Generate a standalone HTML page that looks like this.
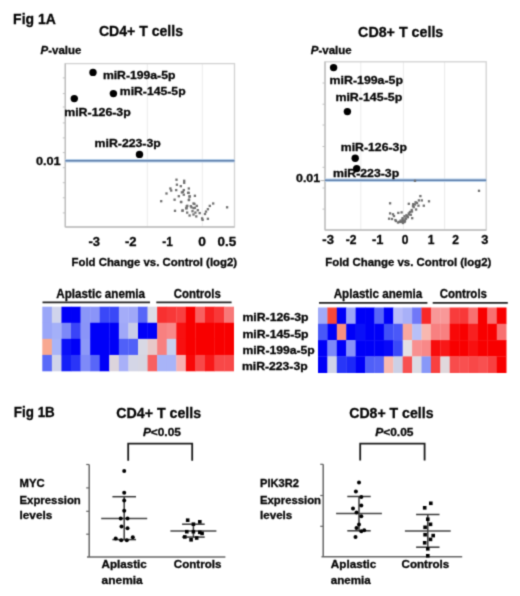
<!DOCTYPE html>
<html><head><meta charset="utf-8"><style>
html,body{margin:0;padding:0;background:#fff;}
body{width:520px;height:596px;overflow:hidden;}
svg{display:block;font-family:"Liberation Sans",sans-serif;}
text{fill:#050505;stroke:#050505;stroke-width:0.3px;}
</style></head><body>
<svg width="520" height="596" viewBox="0 0 520 596">
<defs><filter id="bl" x="0" y="0" width="520" height="596" filterUnits="userSpaceOnUse" color-interpolation-filters="sRGB"><feConvolveMatrix order="3" kernelMatrix="0.0289 0.1122 0.0289 0.1122 0.4356 0.1122 0.0289 0.1122 0.0289" edgeMode="duplicate" preserveAlpha="true"/></filter></defs>
<g filter="url(#bl)">
<rect width="520" height="596" fill="#fff"/>
<text x="13.1" y="24.2" font-size="15.3" font-weight="bold" textLength="42.7" lengthAdjust="spacingAndGlyphs">Fig 1A</text>
<text x="98.9" y="36.2" font-size="15.3" font-weight="bold" textLength="84.1" lengthAdjust="spacingAndGlyphs">CD4+ T cells</text>
<text x="358.1" y="36.7" font-size="15.3" font-weight="bold" textLength="85.2" lengthAdjust="spacingAndGlyphs">CD8+ T cells</text>
<text x="40.6" y="54.4" font-size="11.8" font-weight="bold" textLength="40.7" lengthAdjust="spacingAndGlyphs"><tspan font-style="italic">P</tspan>-value</text>
<text x="310.8" y="54.4" font-size="11.8" font-weight="bold" textLength="40.9" lengthAdjust="spacingAndGlyphs"><tspan font-style="italic">P</tspan>-value</text>
<line x1="147.30" y1="63.60" x2="147.30" y2="227.00" stroke="#ebebeb" stroke-width="1"/>
<line x1="202.30" y1="63.60" x2="202.30" y2="227.00" stroke="#ebebeb" stroke-width="1"/>
<rect x="65.30" y="63.60" width="169.20" height="163.40" fill="none" stroke="#d2d2d2" stroke-width="1.3"/>
<line x1="65.30" y1="63.60" x2="65.30" y2="227.00" stroke="#bcbcbc" stroke-width="1.3"/>
<line x1="65.30" y1="227.00" x2="234.50" y2="227.00" stroke="#bcbcbc" stroke-width="1.5"/>
<line x1="62.80" y1="77.90" x2="65.30" y2="77.90" stroke="#c0c0c0" stroke-width="1"/>
<line x1="62.80" y1="93.60" x2="65.30" y2="93.60" stroke="#c0c0c0" stroke-width="1"/>
<line x1="62.80" y1="107.00" x2="65.30" y2="107.00" stroke="#c0c0c0" stroke-width="1"/>
<line x1="62.80" y1="122.90" x2="65.30" y2="122.90" stroke="#c0c0c0" stroke-width="1"/>
<line x1="62.80" y1="137.90" x2="65.30" y2="137.90" stroke="#c0c0c0" stroke-width="1"/>
<line x1="62.80" y1="152.60" x2="65.30" y2="152.60" stroke="#c0c0c0" stroke-width="1"/>
<line x1="62.80" y1="167.70" x2="65.30" y2="167.70" stroke="#c0c0c0" stroke-width="1"/>
<line x1="62.80" y1="182.70" x2="65.30" y2="182.70" stroke="#c0c0c0" stroke-width="1"/>
<line x1="62.80" y1="197.80" x2="65.30" y2="197.80" stroke="#c0c0c0" stroke-width="1"/>
<line x1="62.80" y1="212.90" x2="65.30" y2="212.90" stroke="#c0c0c0" stroke-width="1"/>
<line x1="65.30" y1="160.70" x2="234.50" y2="160.70" stroke="#bcd4ee" stroke-width="3.4"/>
<line x1="65.30" y1="160.70" x2="234.50" y2="160.70" stroke="#5e7eaa" stroke-width="1.5"/>
<line x1="360.80" y1="61.80" x2="360.80" y2="230.10" stroke="#ebebeb" stroke-width="1"/>
<line x1="403.40" y1="61.80" x2="403.40" y2="230.10" stroke="#ebebeb" stroke-width="1"/>
<line x1="444.60" y1="61.80" x2="444.60" y2="230.10" stroke="#ebebeb" stroke-width="1"/>
<rect x="325.00" y="61.80" width="161.20" height="168.30" fill="none" stroke="#d2d2d2" stroke-width="1.3"/>
<line x1="325.00" y1="61.80" x2="325.00" y2="230.10" stroke="#bcbcbc" stroke-width="1.3"/>
<line x1="325.00" y1="230.10" x2="486.20" y2="230.10" stroke="#bcbcbc" stroke-width="1.5"/>
<line x1="322.50" y1="83.00" x2="325.00" y2="83.00" stroke="#c0c0c0" stroke-width="1"/>
<line x1="322.50" y1="104.20" x2="325.00" y2="104.20" stroke="#c0c0c0" stroke-width="1"/>
<line x1="322.50" y1="125.00" x2="325.00" y2="125.00" stroke="#c0c0c0" stroke-width="1"/>
<line x1="322.50" y1="146.50" x2="325.00" y2="146.50" stroke="#c0c0c0" stroke-width="1"/>
<line x1="322.50" y1="167.30" x2="325.00" y2="167.30" stroke="#c0c0c0" stroke-width="1"/>
<line x1="322.50" y1="188.00" x2="325.00" y2="188.00" stroke="#c0c0c0" stroke-width="1"/>
<line x1="322.50" y1="209.10" x2="325.00" y2="209.10" stroke="#c0c0c0" stroke-width="1"/>
<line x1="325.00" y1="180.20" x2="486.20" y2="180.20" stroke="#bcd4ee" stroke-width="3.4"/>
<line x1="325.00" y1="180.20" x2="486.20" y2="180.20" stroke="#5e7eaa" stroke-width="1.5"/>
<line x1="320.50" y1="180.60" x2="325.00" y2="180.60" stroke="#b0b0b0" stroke-width="1"/>
<rect x="175.35" y="178.55" width="2.30" height="2.30" fill="#6e6e6e"/>
<rect x="183.05" y="179.65" width="2.30" height="2.30" fill="#6e6e6e"/>
<rect x="183.05" y="181.65" width="2.30" height="2.30" fill="#6e6e6e"/>
<rect x="175.75" y="183.55" width="2.30" height="2.30" fill="#6e6e6e"/>
<rect x="179.65" y="185.05" width="2.30" height="2.30" fill="#6e6e6e"/>
<rect x="169.25" y="187.35" width="2.30" height="2.30" fill="#6e6e6e"/>
<rect x="170.05" y="189.35" width="2.30" height="2.30" fill="#6e6e6e"/>
<rect x="175.05" y="188.95" width="2.30" height="2.30" fill="#6e6e6e"/>
<rect x="187.65" y="187.35" width="2.30" height="2.30" fill="#6e6e6e"/>
<rect x="182.65" y="188.95" width="2.30" height="2.30" fill="#6e6e6e"/>
<rect x="180.75" y="191.25" width="2.30" height="2.30" fill="#6e6e6e"/>
<rect x="186.95" y="191.65" width="2.30" height="2.30" fill="#6e6e6e"/>
<rect x="165.35" y="192.35" width="2.30" height="2.30" fill="#6e6e6e"/>
<rect x="188.45" y="195.45" width="2.30" height="2.30" fill="#6e6e6e"/>
<rect x="177.65" y="195.05" width="2.30" height="2.30" fill="#6e6e6e"/>
<rect x="182.65" y="193.55" width="2.30" height="2.30" fill="#6e6e6e"/>
<rect x="160.05" y="200.05" width="2.30" height="2.30" fill="#6e6e6e"/>
<rect x="173.45" y="198.55" width="2.30" height="2.30" fill="#6e6e6e"/>
<rect x="187.65" y="198.95" width="2.30" height="2.30" fill="#6e6e6e"/>
<rect x="180.05" y="200.85" width="2.30" height="2.30" fill="#6e6e6e"/>
<rect x="192.35" y="202.35" width="2.30" height="2.30" fill="#6e6e6e"/>
<rect x="186.15" y="204.65" width="2.30" height="2.30" fill="#6e6e6e"/>
<rect x="189.65" y="205.05" width="2.30" height="2.30" fill="#6e6e6e"/>
<rect x="185.35" y="207.05" width="2.30" height="2.30" fill="#6e6e6e"/>
<rect x="173.85" y="209.65" width="2.30" height="2.30" fill="#6e6e6e"/>
<rect x="181.55" y="209.35" width="2.30" height="2.30" fill="#6e6e6e"/>
<rect x="192.35" y="207.05" width="2.30" height="2.30" fill="#6e6e6e"/>
<rect x="181.75" y="190.75" width="2.30" height="2.30" fill="#6e6e6e"/>
<rect x="187.55" y="191.75" width="2.30" height="2.30" fill="#6e6e6e"/>
<rect x="188.45" y="195.15" width="2.30" height="2.30" fill="#6e6e6e"/>
<rect x="193.75" y="194.65" width="2.30" height="2.30" fill="#6e6e6e"/>
<rect x="187.95" y="198.45" width="2.30" height="2.30" fill="#6e6e6e"/>
<rect x="179.85" y="200.85" width="2.30" height="2.30" fill="#6e6e6e"/>
<rect x="193.25" y="202.75" width="2.30" height="2.30" fill="#6e6e6e"/>
<rect x="195.65" y="204.75" width="2.30" height="2.30" fill="#6e6e6e"/>
<rect x="185.55" y="205.15" width="2.30" height="2.30" fill="#6e6e6e"/>
<rect x="185.15" y="207.15" width="2.30" height="2.30" fill="#6e6e6e"/>
<rect x="190.35" y="206.15" width="2.30" height="2.30" fill="#6e6e6e"/>
<rect x="193.75" y="206.65" width="2.30" height="2.30" fill="#6e6e6e"/>
<rect x="196.65" y="209.05" width="2.30" height="2.30" fill="#6e6e6e"/>
<rect x="181.25" y="209.55" width="2.30" height="2.30" fill="#6e6e6e"/>
<rect x="186.05" y="211.45" width="2.30" height="2.30" fill="#6e6e6e"/>
<rect x="191.35" y="210.05" width="2.30" height="2.30" fill="#6e6e6e"/>
<rect x="194.25" y="211.45" width="2.30" height="2.30" fill="#6e6e6e"/>
<rect x="198.55" y="211.95" width="2.30" height="2.30" fill="#6e6e6e"/>
<rect x="188.45" y="214.35" width="2.30" height="2.30" fill="#6e6e6e"/>
<rect x="192.35" y="213.35" width="2.30" height="2.30" fill="#6e6e6e"/>
<rect x="195.15" y="215.25" width="2.30" height="2.30" fill="#6e6e6e"/>
<rect x="200.95" y="217.25" width="2.30" height="2.30" fill="#6e6e6e"/>
<rect x="201.45" y="218.65" width="2.30" height="2.30" fill="#6e6e6e"/>
<rect x="206.75" y="217.65" width="2.30" height="2.30" fill="#6e6e6e"/>
<rect x="204.85" y="210.45" width="2.30" height="2.30" fill="#6e6e6e"/>
<rect x="206.75" y="208.05" width="2.30" height="2.30" fill="#6e6e6e"/>
<rect x="208.65" y="204.75" width="2.30" height="2.30" fill="#6e6e6e"/>
<rect x="212.05" y="202.35" width="2.30" height="2.30" fill="#6e6e6e"/>
<rect x="203.85" y="212.85" width="2.30" height="2.30" fill="#6e6e6e"/>
<rect x="225.95" y="206.15" width="2.30" height="2.30" fill="#6e6e6e"/>
<rect x="419.25" y="194.95" width="2.30" height="2.30" fill="#6e6e6e"/>
<rect x="417.75" y="199.25" width="2.30" height="2.30" fill="#6e6e6e"/>
<rect x="420.65" y="199.25" width="2.30" height="2.30" fill="#6e6e6e"/>
<rect x="414.45" y="201.15" width="2.30" height="2.30" fill="#6e6e6e"/>
<rect x="412.05" y="203.05" width="2.30" height="2.30" fill="#6e6e6e"/>
<rect x="407.65" y="202.65" width="2.30" height="2.30" fill="#6e6e6e"/>
<rect x="422.65" y="204.55" width="2.30" height="2.30" fill="#6e6e6e"/>
<rect x="417.35" y="204.55" width="2.30" height="2.30" fill="#6e6e6e"/>
<rect x="388.95" y="202.15" width="2.30" height="2.30" fill="#6e6e6e"/>
<rect x="412.55" y="205.95" width="2.30" height="2.30" fill="#6e6e6e"/>
<rect x="414.95" y="208.35" width="2.30" height="2.30" fill="#6e6e6e"/>
<rect x="410.55" y="208.85" width="2.30" height="2.30" fill="#6e6e6e"/>
<rect x="397.15" y="211.75" width="2.30" height="2.30" fill="#6e6e6e"/>
<rect x="400.45" y="211.25" width="2.30" height="2.30" fill="#6e6e6e"/>
<rect x="388.95" y="212.25" width="2.30" height="2.30" fill="#6e6e6e"/>
<rect x="391.85" y="213.15" width="2.30" height="2.30" fill="#6e6e6e"/>
<rect x="407.65" y="212.25" width="2.30" height="2.30" fill="#6e6e6e"/>
<rect x="409.65" y="213.65" width="2.30" height="2.30" fill="#6e6e6e"/>
<rect x="405.25" y="214.15" width="2.30" height="2.30" fill="#6e6e6e"/>
<rect x="403.35" y="215.15" width="2.30" height="2.30" fill="#6e6e6e"/>
<rect x="406.75" y="216.05" width="2.30" height="2.30" fill="#6e6e6e"/>
<rect x="411.05" y="217.05" width="2.30" height="2.30" fill="#6e6e6e"/>
<rect x="387.95" y="217.55" width="2.30" height="2.30" fill="#6e6e6e"/>
<rect x="401.45" y="217.05" width="2.30" height="2.30" fill="#6e6e6e"/>
<rect x="404.85" y="217.55" width="2.30" height="2.30" fill="#6e6e6e"/>
<rect x="394.25" y="218.95" width="2.30" height="2.30" fill="#6e6e6e"/>
<rect x="399.55" y="219.45" width="2.30" height="2.30" fill="#6e6e6e"/>
<rect x="401.95" y="219.95" width="2.30" height="2.30" fill="#6e6e6e"/>
<rect x="400.45" y="220.85" width="2.30" height="2.30" fill="#6e6e6e"/>
<rect x="398.05" y="220.85" width="2.30" height="2.30" fill="#6e6e6e"/>
<rect x="403.35" y="220.85" width="2.30" height="2.30" fill="#6e6e6e"/>
<rect x="427.85" y="200.15" width="2.30" height="2.30" fill="#6e6e6e"/>
<rect x="477.85" y="189.65" width="2.30" height="2.30" fill="#6e6e6e"/>
<rect x="413.85" y="179.65" width="2.30" height="2.30" fill="#6e6e6e"/>
<rect x="401.35" y="218.35" width="2.30" height="2.30" fill="#6e6e6e"/>
<rect x="402.85" y="219.35" width="2.30" height="2.30" fill="#6e6e6e"/>
<rect x="404.35" y="217.35" width="2.30" height="2.30" fill="#6e6e6e"/>
<rect x="405.85" y="214.85" width="2.30" height="2.30" fill="#6e6e6e"/>
<rect x="407.85" y="213.35" width="2.30" height="2.30" fill="#6e6e6e"/>
<rect x="398.85" y="220.65" width="2.30" height="2.30" fill="#6e6e6e"/>
<rect x="396.85" y="221.35" width="2.30" height="2.30" fill="#6e6e6e"/>
<rect x="401.85" y="221.85" width="2.30" height="2.30" fill="#6e6e6e"/>
<rect x="403.85" y="219.85" width="2.30" height="2.30" fill="#6e6e6e"/>
<rect x="408.85" y="210.85" width="2.30" height="2.30" fill="#6e6e6e"/>
<rect x="410.85" y="210.35" width="2.30" height="2.30" fill="#6e6e6e"/>
<rect x="394.85" y="219.85" width="2.30" height="2.30" fill="#6e6e6e"/>
<rect x="392.85" y="214.85" width="2.30" height="2.30" fill="#6e6e6e"/>
<rect x="390.85" y="217.85" width="2.30" height="2.30" fill="#6e6e6e"/>
<rect x="411.85" y="204.85" width="2.30" height="2.30" fill="#6e6e6e"/>
<rect x="413.85" y="203.35" width="2.30" height="2.30" fill="#6e6e6e"/>
<rect x="415.85" y="201.85" width="2.30" height="2.30" fill="#6e6e6e"/>
<circle cx="93.00" cy="72.40" r="3.7" fill="#000"/>
<circle cx="113.40" cy="93.60" r="3.7" fill="#000"/>
<circle cx="74.30" cy="98.60" r="3.7" fill="#000"/>
<circle cx="139.50" cy="154.40" r="3.7" fill="#000"/>
<circle cx="333.60" cy="67.60" r="3.7" fill="#000"/>
<circle cx="347.40" cy="111.60" r="3.7" fill="#000"/>
<circle cx="355.20" cy="158.30" r="3.7" fill="#000"/>
<circle cx="356.70" cy="168.60" r="3.7" fill="#000"/>
<text x="102.9" y="78.6" font-size="11.3" font-weight="bold" textLength="72.5" lengthAdjust="spacingAndGlyphs">miR-199a-5p</text>
<text x="119.8" y="95.1" font-size="11.3" font-weight="bold" textLength="65.8" lengthAdjust="spacingAndGlyphs">miR-145-5p</text>
<text x="64.2" y="115.6" font-size="11.3" font-weight="bold" textLength="66.6" lengthAdjust="spacingAndGlyphs">miR-126-3p</text>
<text x="94.6" y="146.8" font-size="11.3" font-weight="bold" textLength="66.2" lengthAdjust="spacingAndGlyphs">miR-223-3p</text>
<text x="329.6" y="84.0" font-size="11.3" font-weight="bold" textLength="73.4" lengthAdjust="spacingAndGlyphs">miR-199a-5p</text>
<text x="335.4" y="100.7" font-size="11.3" font-weight="bold" textLength="66.9" lengthAdjust="spacingAndGlyphs">miR-145-5p</text>
<text x="340.8" y="151.2" font-size="11.3" font-weight="bold" textLength="66.1" lengthAdjust="spacingAndGlyphs">miR-126-3p</text>
<text x="333.0" y="177.1" font-size="11.3" font-weight="bold" textLength="66.2" lengthAdjust="spacingAndGlyphs">miR-223-3p</text>
<text x="35.9" y="164.8" font-size="11.6" font-weight="bold" textLength="24.8" lengthAdjust="spacingAndGlyphs">0.01</text>
<text x="296.0" y="182.4" font-size="11.6" font-weight="bold" textLength="24.2" lengthAdjust="spacingAndGlyphs">0.01</text>
<text x="88.5" y="245.9" font-size="12.3" font-weight="bold" textLength="11.5" lengthAdjust="spacingAndGlyphs">-3</text>
<text x="125.0" y="245.9" font-size="12.3" font-weight="bold" textLength="11.6" lengthAdjust="spacingAndGlyphs">-2</text>
<text x="162.3" y="245.9" font-size="12.3" font-weight="bold" textLength="10.5" lengthAdjust="spacingAndGlyphs">-1</text>
<text x="198.3" y="245.9" font-size="12.3" font-weight="bold" textLength="7.7" lengthAdjust="spacingAndGlyphs">0</text>
<text x="217.6" y="245.9" font-size="12.3" font-weight="bold" textLength="18.7" lengthAdjust="spacingAndGlyphs">0.5</text>
<text x="322.3" y="244.3" font-size="12.3" font-weight="bold" textLength="11.6" lengthAdjust="spacingAndGlyphs">-3</text>
<text x="345.7" y="244.3" font-size="12.3" font-weight="bold" textLength="10.7" lengthAdjust="spacingAndGlyphs">-2</text>
<text x="372.0" y="244.3" font-size="12.3" font-weight="bold" textLength="11.4" lengthAdjust="spacingAndGlyphs">-1</text>
<text x="401.8" y="244.3" font-size="12.3" font-weight="bold" textLength="6.7" lengthAdjust="spacingAndGlyphs">0</text>
<text x="427.7" y="244.3" font-size="12.3" font-weight="bold" textLength="6.7" lengthAdjust="spacingAndGlyphs">1</text>
<text x="452.3" y="244.3" font-size="12.3" font-weight="bold" textLength="6.7" lengthAdjust="spacingAndGlyphs">2</text>
<text x="481.2" y="244.3" font-size="12.3" font-weight="bold" textLength="7.1" lengthAdjust="spacingAndGlyphs">3</text>
<text x="71.5" y="266.0" font-size="11.8" font-weight="bold" textLength="165.6" lengthAdjust="spacingAndGlyphs">Fold Change vs. Control (log2)</text>
<text x="325.2" y="266.0" font-size="11.8" font-weight="bold" textLength="166.1" lengthAdjust="spacingAndGlyphs">Fold Change vs. Control (log2)</text>
<rect x="42.30" y="306.70" width="9.87" height="16.38" fill="#9aa6f8"/>
<rect x="42.30" y="322.77" width="9.87" height="16.38" fill="#9aa6f8"/>
<rect x="42.30" y="338.85" width="9.87" height="16.38" fill="#f8a890"/>
<rect x="42.30" y="354.93" width="9.87" height="16.38" fill="#5a6af8"/>
<rect x="51.87" y="306.70" width="9.87" height="16.38" fill="#d0d4ec"/>
<rect x="51.87" y="322.77" width="9.87" height="16.38" fill="#a4b0f8"/>
<rect x="51.87" y="338.85" width="9.87" height="16.38" fill="#a8b4f8"/>
<rect x="51.87" y="354.93" width="9.87" height="16.38" fill="#d0d4ea"/>
<rect x="61.44" y="306.70" width="9.87" height="16.38" fill="#0000f8"/>
<rect x="61.44" y="322.77" width="9.87" height="16.38" fill="#7c88f8"/>
<rect x="61.44" y="338.85" width="9.87" height="16.38" fill="#0a10f8"/>
<rect x="61.44" y="354.93" width="9.87" height="16.38" fill="#1520f8"/>
<rect x="71.01" y="306.70" width="9.87" height="16.38" fill="#0000f8"/>
<rect x="71.01" y="322.77" width="9.87" height="16.38" fill="#3a44f8"/>
<rect x="71.01" y="338.85" width="9.87" height="16.38" fill="#0000f8"/>
<rect x="71.01" y="354.93" width="9.87" height="16.38" fill="#2a35f8"/>
<rect x="80.58" y="306.70" width="9.87" height="16.38" fill="#8a96f8"/>
<rect x="80.58" y="322.77" width="9.87" height="16.38" fill="#8a94f8"/>
<rect x="80.58" y="338.85" width="9.87" height="16.38" fill="#8c98f8"/>
<rect x="80.58" y="354.93" width="9.87" height="16.38" fill="#7e8af8"/>
<rect x="90.15" y="306.70" width="9.87" height="16.38" fill="#8a94f8"/>
<rect x="90.15" y="322.77" width="9.87" height="16.38" fill="#0000f8"/>
<rect x="90.15" y="338.85" width="9.87" height="16.38" fill="#0000f8"/>
<rect x="90.15" y="354.93" width="9.87" height="16.38" fill="#5866f8"/>
<rect x="99.72" y="306.70" width="9.87" height="16.38" fill="#3a48f8"/>
<rect x="99.72" y="322.77" width="9.87" height="16.38" fill="#0000f8"/>
<rect x="99.72" y="338.85" width="9.87" height="16.38" fill="#0000f8"/>
<rect x="99.72" y="354.93" width="9.87" height="16.38" fill="#0000f8"/>
<rect x="109.29" y="306.70" width="9.87" height="16.38" fill="#3a48f8"/>
<rect x="109.29" y="322.77" width="9.87" height="16.38" fill="#0000f8"/>
<rect x="109.29" y="338.85" width="9.87" height="16.38" fill="#0000f8"/>
<rect x="109.29" y="354.93" width="9.87" height="16.38" fill="#dcd4dc"/>
<rect x="118.86" y="306.70" width="9.87" height="16.38" fill="#a4acf8"/>
<rect x="118.86" y="322.77" width="9.87" height="16.38" fill="#a0a8f8"/>
<rect x="118.86" y="338.85" width="9.87" height="16.38" fill="#5060f8"/>
<rect x="118.86" y="354.93" width="9.87" height="16.38" fill="#a8b0f8"/>
<rect x="128.43" y="306.70" width="9.87" height="16.38" fill="#a0a8f8"/>
<rect x="128.43" y="322.77" width="9.87" height="16.38" fill="#c8cce8"/>
<rect x="128.43" y="338.85" width="9.87" height="16.38" fill="#5060f8"/>
<rect x="128.43" y="354.93" width="9.87" height="16.38" fill="#d4d6e6"/>
<rect x="138.00" y="306.70" width="9.87" height="16.38" fill="#5866f8"/>
<rect x="138.00" y="322.77" width="9.87" height="16.38" fill="#0000f8"/>
<rect x="138.00" y="338.85" width="9.87" height="16.38" fill="#d8d8e4"/>
<rect x="138.00" y="354.93" width="9.87" height="16.38" fill="#d6d6e2"/>
<rect x="147.57" y="306.70" width="9.87" height="16.38" fill="#dcdce6"/>
<rect x="147.57" y="322.77" width="9.87" height="16.38" fill="#0000f8"/>
<rect x="147.57" y="338.85" width="9.87" height="16.38" fill="#e8c8c8"/>
<rect x="147.57" y="354.93" width="9.87" height="16.38" fill="#f86060"/>
<rect x="157.14" y="306.70" width="9.87" height="16.38" fill="#f83030"/>
<rect x="157.14" y="322.77" width="9.87" height="16.38" fill="#f88080"/>
<rect x="157.14" y="338.85" width="9.87" height="16.38" fill="#f88080"/>
<rect x="157.14" y="354.93" width="9.87" height="16.38" fill="#a8b4f8"/>
<rect x="166.71" y="306.70" width="9.87" height="16.38" fill="#f83838"/>
<rect x="166.71" y="322.77" width="9.87" height="16.38" fill="#f88888"/>
<rect x="166.71" y="338.85" width="9.87" height="16.38" fill="#c8d0ee"/>
<rect x="166.71" y="354.93" width="9.87" height="16.38" fill="#a8b4f8"/>
<rect x="176.28" y="306.70" width="9.87" height="16.38" fill="#f84040"/>
<rect x="176.28" y="322.77" width="9.87" height="16.38" fill="#f81010"/>
<rect x="176.28" y="338.85" width="9.87" height="16.38" fill="#f81010"/>
<rect x="176.28" y="354.93" width="9.87" height="16.38" fill="#f8b0b0"/>
<rect x="185.85" y="306.70" width="9.87" height="16.38" fill="#f80000"/>
<rect x="185.85" y="322.77" width="9.87" height="16.38" fill="#f80000"/>
<rect x="185.85" y="338.85" width="9.87" height="16.38" fill="#f80000"/>
<rect x="185.85" y="354.93" width="9.87" height="16.38" fill="#f80808"/>
<rect x="195.42" y="306.70" width="9.87" height="16.38" fill="#f86060"/>
<rect x="195.42" y="322.77" width="9.87" height="16.38" fill="#f80000"/>
<rect x="195.42" y="338.85" width="9.87" height="16.38" fill="#f80000"/>
<rect x="195.42" y="354.93" width="9.87" height="16.38" fill="#f84848"/>
<rect x="204.99" y="306.70" width="9.87" height="16.38" fill="#f82020"/>
<rect x="204.99" y="322.77" width="9.87" height="16.38" fill="#f80000"/>
<rect x="204.99" y="338.85" width="9.87" height="16.38" fill="#f80000"/>
<rect x="204.99" y="354.93" width="9.87" height="16.38" fill="#f81818"/>
<rect x="214.56" y="306.70" width="9.87" height="16.38" fill="#f83838"/>
<rect x="214.56" y="322.77" width="9.87" height="16.38" fill="#f80000"/>
<rect x="214.56" y="338.85" width="9.87" height="16.38" fill="#f80000"/>
<rect x="214.56" y="354.93" width="9.87" height="16.38" fill="#f84848"/>
<rect x="224.13" y="306.70" width="9.87" height="16.38" fill="#f87878"/>
<rect x="224.13" y="322.77" width="9.87" height="16.38" fill="#f80000"/>
<rect x="224.13" y="338.85" width="9.87" height="16.38" fill="#f80000"/>
<rect x="224.13" y="354.93" width="9.87" height="16.38" fill="#f84848"/>
<rect x="318.00" y="307.50" width="9.71" height="16.60" fill="#a0aaf8"/>
<rect x="318.00" y="323.80" width="9.71" height="16.60" fill="#4858f8"/>
<rect x="318.00" y="340.10" width="9.71" height="16.60" fill="#0000f8"/>
<rect x="318.00" y="356.40" width="9.71" height="16.60" fill="#0000f8"/>
<rect x="327.41" y="307.50" width="9.71" height="16.60" fill="#f84838"/>
<rect x="327.41" y="323.80" width="9.71" height="16.60" fill="#0000f8"/>
<rect x="327.41" y="340.10" width="9.71" height="16.60" fill="#7c88f8"/>
<rect x="327.41" y="356.40" width="9.71" height="16.60" fill="#d0d4e8"/>
<rect x="336.82" y="307.50" width="9.71" height="16.60" fill="#0000f8"/>
<rect x="336.82" y="323.80" width="9.71" height="16.60" fill="#f89080"/>
<rect x="336.82" y="340.10" width="9.71" height="16.60" fill="#0000f8"/>
<rect x="336.82" y="356.40" width="9.71" height="16.60" fill="#2836f8"/>
<rect x="346.23" y="307.50" width="9.71" height="16.60" fill="#9ca6f8"/>
<rect x="346.23" y="323.80" width="9.71" height="16.60" fill="#0000f8"/>
<rect x="346.23" y="340.10" width="9.71" height="16.60" fill="#8892f8"/>
<rect x="346.23" y="356.40" width="9.71" height="16.60" fill="#1c28f8"/>
<rect x="355.64" y="307.50" width="9.71" height="16.60" fill="#0000f8"/>
<rect x="355.64" y="323.80" width="9.71" height="16.60" fill="#0a10f8"/>
<rect x="355.64" y="340.10" width="9.71" height="16.60" fill="#0000f8"/>
<rect x="355.64" y="356.40" width="9.71" height="16.60" fill="#0000f8"/>
<rect x="365.05" y="307.50" width="9.71" height="16.60" fill="#0000f8"/>
<rect x="365.05" y="323.80" width="9.71" height="16.60" fill="#0000f8"/>
<rect x="365.05" y="340.10" width="9.71" height="16.60" fill="#0000f8"/>
<rect x="365.05" y="356.40" width="9.71" height="16.60" fill="#5060f8"/>
<rect x="374.46" y="307.50" width="9.71" height="16.60" fill="#5866f8"/>
<rect x="374.46" y="323.80" width="9.71" height="16.60" fill="#0000f8"/>
<rect x="374.46" y="340.10" width="9.71" height="16.60" fill="#0000f8"/>
<rect x="374.46" y="356.40" width="9.71" height="16.60" fill="#5563f8"/>
<rect x="383.87" y="307.50" width="9.71" height="16.60" fill="#0000f8"/>
<rect x="383.87" y="323.80" width="9.71" height="16.60" fill="#4050f8"/>
<rect x="383.87" y="340.10" width="9.71" height="16.60" fill="#0808f8"/>
<rect x="383.87" y="356.40" width="9.71" height="16.60" fill="#f8b8b0"/>
<rect x="393.28" y="307.50" width="9.71" height="16.60" fill="#b8bcf8"/>
<rect x="393.28" y="323.80" width="9.71" height="16.60" fill="#4a58f8"/>
<rect x="393.28" y="340.10" width="9.71" height="16.60" fill="#3a48f8"/>
<rect x="393.28" y="356.40" width="9.71" height="16.60" fill="#ccd0e6"/>
<rect x="402.69" y="307.50" width="9.71" height="16.60" fill="#a8b0f8"/>
<rect x="402.69" y="323.80" width="9.71" height="16.60" fill="#f8a8a0"/>
<rect x="402.69" y="340.10" width="9.71" height="16.60" fill="#e4e0e4"/>
<rect x="402.69" y="356.40" width="9.71" height="16.60" fill="#f85050"/>
<rect x="412.10" y="307.50" width="9.71" height="16.60" fill="#7078f8"/>
<rect x="412.10" y="323.80" width="9.71" height="16.60" fill="#b8c0f8"/>
<rect x="412.10" y="340.10" width="9.71" height="16.60" fill="#f89090"/>
<rect x="412.10" y="356.40" width="9.71" height="16.60" fill="#dcdce4"/>
<rect x="421.51" y="307.50" width="9.71" height="16.60" fill="#f82828"/>
<rect x="421.51" y="323.80" width="9.71" height="16.60" fill="#f8b8b0"/>
<rect x="421.51" y="340.10" width="9.71" height="16.60" fill="#f88888"/>
<rect x="421.51" y="356.40" width="9.71" height="16.60" fill="#8898f8"/>
<rect x="430.92" y="307.50" width="9.71" height="16.60" fill="#f89898"/>
<rect x="430.92" y="323.80" width="9.71" height="16.60" fill="#f88080"/>
<rect x="430.92" y="340.10" width="9.71" height="16.60" fill="#f80c0c"/>
<rect x="430.92" y="356.40" width="9.71" height="16.60" fill="#f84040"/>
<rect x="440.33" y="307.50" width="9.71" height="16.60" fill="#f89898"/>
<rect x="440.33" y="323.80" width="9.71" height="16.60" fill="#f88080"/>
<rect x="440.33" y="340.10" width="9.71" height="16.60" fill="#f81818"/>
<rect x="440.33" y="356.40" width="9.71" height="16.60" fill="#e0d8dc"/>
<rect x="449.74" y="307.50" width="9.71" height="16.60" fill="#f83c3c"/>
<rect x="449.74" y="323.80" width="9.71" height="16.60" fill="#f80808"/>
<rect x="449.74" y="340.10" width="9.71" height="16.60" fill="#f80000"/>
<rect x="449.74" y="356.40" width="9.71" height="16.60" fill="#f84c4c"/>
<rect x="459.15" y="307.50" width="9.71" height="16.60" fill="#f83838"/>
<rect x="459.15" y="323.80" width="9.71" height="16.60" fill="#f80000"/>
<rect x="459.15" y="340.10" width="9.71" height="16.60" fill="#f80000"/>
<rect x="459.15" y="356.40" width="9.71" height="16.60" fill="#f85050"/>
<rect x="468.56" y="307.50" width="9.71" height="16.60" fill="#f87070"/>
<rect x="468.56" y="323.80" width="9.71" height="16.60" fill="#f82020"/>
<rect x="468.56" y="340.10" width="9.71" height="16.60" fill="#f81010"/>
<rect x="468.56" y="356.40" width="9.71" height="16.60" fill="#f84848"/>
<rect x="477.97" y="307.50" width="9.71" height="16.60" fill="#f80000"/>
<rect x="477.97" y="323.80" width="9.71" height="16.60" fill="#f80000"/>
<rect x="477.97" y="340.10" width="9.71" height="16.60" fill="#f80000"/>
<rect x="477.97" y="356.40" width="9.71" height="16.60" fill="#f85050"/>
<rect x="487.38" y="307.50" width="9.71" height="16.60" fill="#f87070"/>
<rect x="487.38" y="323.80" width="9.71" height="16.60" fill="#f80000"/>
<rect x="487.38" y="340.10" width="9.71" height="16.60" fill="#f80000"/>
<rect x="487.38" y="356.40" width="9.71" height="16.60" fill="#f84040"/>
<rect x="496.79" y="307.50" width="9.71" height="16.60" fill="#f80000"/>
<rect x="496.79" y="323.80" width="9.71" height="16.60" fill="#f87070"/>
<rect x="496.79" y="340.10" width="9.71" height="16.60" fill="#f80000"/>
<rect x="496.79" y="356.40" width="9.71" height="16.60" fill="#f80000"/>
<text x="56.3" y="297.8" font-size="13" font-weight="bold" textLength="88.7" lengthAdjust="spacingAndGlyphs">Aplastic anemia</text>
<text x="173.8" y="297.5" font-size="13" font-weight="bold" textLength="47.0" lengthAdjust="spacingAndGlyphs">Controls</text>
<line x1="42.50" y1="302.40" x2="150.00" y2="302.40" stroke="#222" stroke-width="1.8"/>
<line x1="156.30" y1="302.40" x2="231.60" y2="302.40" stroke="#222" stroke-width="1.8"/>
<text x="333.7" y="298.0" font-size="13" font-weight="bold" textLength="88.6" lengthAdjust="spacingAndGlyphs">Aplastic anemia</text>
<text x="439.7" y="298.0" font-size="13" font-weight="bold" textLength="47.3" lengthAdjust="spacingAndGlyphs">Controls</text>
<line x1="319.00" y1="302.80" x2="427.40" y2="302.80" stroke="#222" stroke-width="1.8"/>
<line x1="432.70" y1="302.80" x2="507.80" y2="302.80" stroke="#222" stroke-width="1.8"/>
<text x="242.4" y="321.0" font-size="11.3" font-weight="bold" textLength="66.2" lengthAdjust="spacingAndGlyphs">miR-126-3p</text>
<text x="242.4" y="337.7" font-size="11.3" font-weight="bold" textLength="66.2" lengthAdjust="spacingAndGlyphs">miR-145-5p</text>
<text x="242.4" y="354.4" font-size="11.3" font-weight="bold" textLength="72.4" lengthAdjust="spacingAndGlyphs">miR-199a-5p</text>
<text x="241.9" y="369.5" font-size="11.3" font-weight="bold" textLength="65.8" lengthAdjust="spacingAndGlyphs">miR-223-3p</text>
<text x="13.8" y="416.9" font-size="15.3" font-weight="bold" textLength="41.0" lengthAdjust="spacingAndGlyphs">Fig 1B</text>
<text x="116.2" y="418.0" font-size="15.3" font-weight="bold" textLength="85.0" lengthAdjust="spacingAndGlyphs">CD4+ T cells</text>
<text x="349.2" y="418.0" font-size="15.3" font-weight="bold" textLength="84.3" lengthAdjust="spacingAndGlyphs">CD8+ T cells</text>
<text x="142.9" y="435.9" font-size="11.8" font-weight="bold" textLength="38.0" lengthAdjust="spacingAndGlyphs"><tspan font-style="italic">P</tspan>&lt;0.05</text>
<text x="375.2" y="435.8" font-size="11.8" font-weight="bold" textLength="38.3" lengthAdjust="spacingAndGlyphs"><tspan font-style="italic">P</tspan>&lt;0.05</text>
<path d="M128.2,460.7 V443.7 H192.2 V460.7" fill="none" stroke="#1a1a1a" stroke-width="1.8"/>
<path d="M360.2,460.4 V443.7 H424.6 V460.4" fill="none" stroke="#1a1a1a" stroke-width="1.8"/>
<text x="19.5" y="486.6" font-size="11" font-weight="bold" textLength="25.1" lengthAdjust="spacingAndGlyphs">MYC</text>
<text x="19.5" y="503.5" font-size="11" font-weight="bold" textLength="61.3" lengthAdjust="spacingAndGlyphs">Expression</text>
<text x="19.5" y="518.9" font-size="11" font-weight="bold" textLength="32.8" lengthAdjust="spacingAndGlyphs">levels</text>
<text x="260.0" y="486.6" font-size="11" font-weight="bold" textLength="38.9" lengthAdjust="spacingAndGlyphs">PIK3R2</text>
<text x="260.0" y="503.5" font-size="11" font-weight="bold" textLength="61.0" lengthAdjust="spacingAndGlyphs">Expression</text>
<text x="260.0" y="518.9" font-size="11" font-weight="bold" textLength="32.3" lengthAdjust="spacingAndGlyphs">levels</text>
<line x1="89.20" y1="464.50" x2="89.20" y2="557.00" stroke="#666" stroke-width="1.5"/>
<line x1="87.00" y1="557.00" x2="225.40" y2="557.00" stroke="#666" stroke-width="1.5"/>
<line x1="86.20" y1="464.50" x2="89.20" y2="464.50" stroke="#666" stroke-width="1.2"/>
<line x1="86.20" y1="487.90" x2="89.20" y2="487.90" stroke="#666" stroke-width="1.2"/>
<line x1="86.20" y1="511.30" x2="89.20" y2="511.30" stroke="#666" stroke-width="1.2"/>
<line x1="86.20" y1="534.20" x2="89.20" y2="534.20" stroke="#666" stroke-width="1.2"/>
<line x1="323.20" y1="464.30" x2="323.20" y2="556.70" stroke="#666" stroke-width="1.5"/>
<line x1="321.50" y1="556.70" x2="462.20" y2="556.70" stroke="#666" stroke-width="1.5"/>
<line x1="320.20" y1="464.30" x2="323.20" y2="464.30" stroke="#666" stroke-width="1.2"/>
<line x1="320.20" y1="495.50" x2="323.20" y2="495.50" stroke="#666" stroke-width="1.2"/>
<line x1="320.20" y1="526.30" x2="323.20" y2="526.30" stroke="#666" stroke-width="1.2"/>
<line x1="124.20" y1="496.70" x2="124.20" y2="539.60" stroke="#383838" stroke-width="1.5"/>
<line x1="112.40" y1="496.70" x2="136.00" y2="496.70" stroke="#383838" stroke-width="1.5"/>
<line x1="112.40" y1="539.60" x2="136.00" y2="539.60" stroke="#383838" stroke-width="1.5"/>
<line x1="101.20" y1="518.50" x2="147.20" y2="518.50" stroke="#444" stroke-width="1.5"/>
<circle cx="124.20" cy="470.90" r="2.0" fill="#000"/>
<circle cx="124.20" cy="492.70" r="2.0" fill="#000"/>
<circle cx="124.20" cy="500.40" r="2.0" fill="#000"/>
<circle cx="124.20" cy="510.80" r="2.0" fill="#000"/>
<circle cx="120.70" cy="518.50" r="2.0" fill="#000"/>
<circle cx="127.50" cy="518.50" r="2.0" fill="#000"/>
<circle cx="121.50" cy="526.40" r="2.0" fill="#000"/>
<circle cx="127.50" cy="528.20" r="2.0" fill="#000"/>
<circle cx="115.70" cy="538.40" r="2.0" fill="#000"/>
<circle cx="121.20" cy="540.20" r="2.0" fill="#000"/>
<circle cx="126.80" cy="540.20" r="2.0" fill="#000"/>
<circle cx="132.80" cy="537.20" r="2.0" fill="#000"/>
<line x1="193.40" y1="524.20" x2="193.40" y2="537.10" stroke="#383838" stroke-width="1.5"/>
<line x1="182.10" y1="524.20" x2="204.70" y2="524.20" stroke="#383838" stroke-width="1.5"/>
<line x1="182.10" y1="537.10" x2="204.70" y2="537.10" stroke="#383838" stroke-width="1.5"/>
<line x1="170.40" y1="531.10" x2="216.40" y2="531.10" stroke="#444" stroke-width="1.5"/>
<rect x="185.90" y="518.40" width="3.60" height="3.60" fill="#000"/>
<rect x="198.00" y="520.00" width="3.60" height="3.60" fill="#000"/>
<rect x="191.60" y="522.40" width="3.60" height="3.60" fill="#000"/>
<rect x="185.00" y="529.90" width="3.60" height="3.60" fill="#000"/>
<rect x="191.60" y="529.90" width="3.60" height="3.60" fill="#000"/>
<rect x="198.00" y="530.50" width="3.60" height="3.60" fill="#000"/>
<rect x="183.00" y="535.10" width="3.60" height="3.60" fill="#000"/>
<rect x="189.30" y="538.00" width="3.60" height="3.60" fill="#000"/>
<rect x="194.90" y="536.20" width="3.60" height="3.60" fill="#000"/>
<rect x="200.30" y="531.60" width="3.60" height="3.60" fill="#000"/>
<line x1="359.00" y1="496.50" x2="359.00" y2="530.80" stroke="#383838" stroke-width="1.5"/>
<line x1="347.30" y1="496.50" x2="370.70" y2="496.50" stroke="#383838" stroke-width="1.5"/>
<line x1="347.30" y1="530.80" x2="370.70" y2="530.80" stroke="#383838" stroke-width="1.5"/>
<line x1="336.10" y1="513.40" x2="381.90" y2="513.40" stroke="#444" stroke-width="1.5"/>
<circle cx="359.00" cy="482.60" r="2.0" fill="#000"/>
<circle cx="355.90" cy="491.60" r="2.0" fill="#000"/>
<circle cx="361.30" cy="497.00" r="2.0" fill="#000"/>
<circle cx="361.30" cy="505.50" r="2.0" fill="#000"/>
<circle cx="353.00" cy="508.60" r="2.0" fill="#000"/>
<circle cx="356.50" cy="512.50" r="2.0" fill="#000"/>
<circle cx="361.30" cy="516.30" r="2.0" fill="#000"/>
<circle cx="359.00" cy="524.40" r="2.0" fill="#000"/>
<circle cx="356.50" cy="527.90" r="2.0" fill="#000"/>
<circle cx="361.30" cy="531.20" r="2.0" fill="#000"/>
<circle cx="364.20" cy="530.20" r="2.0" fill="#000"/>
<circle cx="355.50" cy="537.00" r="2.0" fill="#000"/>
<line x1="427.80" y1="514.50" x2="427.80" y2="547.20" stroke="#383838" stroke-width="1.5"/>
<line x1="416.10" y1="514.50" x2="439.50" y2="514.50" stroke="#383838" stroke-width="1.5"/>
<line x1="416.10" y1="547.20" x2="439.50" y2="547.20" stroke="#383838" stroke-width="1.5"/>
<line x1="404.90" y1="531.10" x2="450.70" y2="531.10" stroke="#444" stroke-width="1.5"/>
<rect x="429.00" y="501.50" width="3.60" height="3.60" fill="#000"/>
<rect x="422.90" y="506.00" width="3.60" height="3.60" fill="#000"/>
<rect x="426.00" y="517.40" width="3.60" height="3.60" fill="#000"/>
<rect x="428.70" y="522.50" width="3.60" height="3.60" fill="#000"/>
<rect x="423.30" y="525.50" width="3.60" height="3.60" fill="#000"/>
<rect x="423.30" y="532.90" width="3.60" height="3.60" fill="#000"/>
<rect x="431.40" y="533.80" width="3.60" height="3.60" fill="#000"/>
<rect x="428.70" y="537.60" width="3.60" height="3.60" fill="#000"/>
<rect x="422.90" y="541.00" width="3.60" height="3.60" fill="#000"/>
<rect x="426.00" y="547.00" width="3.60" height="3.60" fill="#000"/>
<rect x="426.00" y="554.00" width="3.60" height="3.60" fill="#000"/>
<text x="101.6" y="567.8" font-size="11" font-weight="bold" textLength="45.2" lengthAdjust="spacingAndGlyphs">Aplastic</text>
<text x="101.6" y="583.5" font-size="11" font-weight="bold" textLength="41.1" lengthAdjust="spacingAndGlyphs">anemia</text>
<text x="173.8" y="567.7" font-size="11" font-weight="bold" textLength="47.6" lengthAdjust="spacingAndGlyphs">Controls</text>
<text x="330.8" y="568.0" font-size="11" font-weight="bold" textLength="45.5" lengthAdjust="spacingAndGlyphs">Aplastic</text>
<text x="330.8" y="584.0" font-size="11" font-weight="bold" textLength="40.0" lengthAdjust="spacingAndGlyphs">anemia</text>
<text x="401.5" y="568.0" font-size="11" font-weight="bold" textLength="47.7" lengthAdjust="spacingAndGlyphs">Controls</text>
</g>
</svg>
</body></html>
